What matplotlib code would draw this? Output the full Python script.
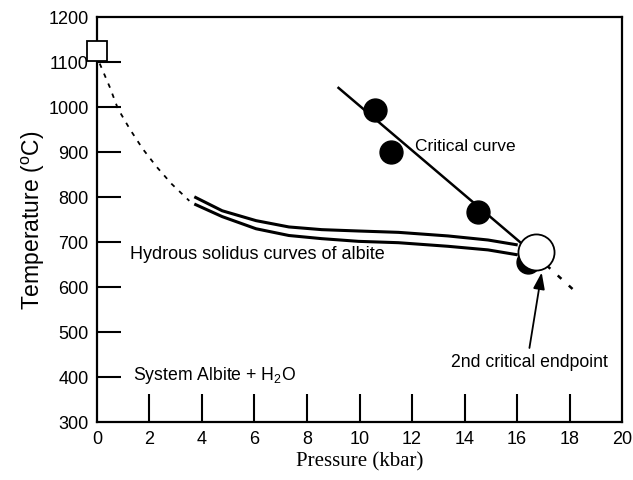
import numpy as np
import matplotlib
matplotlib.use("Agg")
import matplotlib.pyplot as plt

plt.rcParams['font.family'] = ['Liberation Sans', 'DejaVu Sans']
plt.rcParams['mathtext.fontset'] = 'custom'
plt.rcParams['mathtext.rm'] = 'Liberation Sans'

# --- data ---
# dashed extrapolation of the solidus towards the dry melting point
dash_p = [0.11, 0.49, 0.80, 1.25, 1.74, 2.27, 2.84, 3.52]
dash_t = [1096, 1044, 996, 951, 907, 867, 829, 791]

# two hydrous solidus curves
sol_p = [3.71, 4.77, 6.06, 7.31, 8.56, 9.96, 11.48, 13.37, 14.89, 16.02]
sol_upper_t = [800, 769, 747, 733, 727, 724, 721, 713, 704, 693]
sol_lower_t = [784, 756, 729, 714, 707, 701, 698, 690, 682, 671]

# critical curve (solid part + dotted extension)
crit_p = [9.2, 16.7]
crit_t = [1042, 670]
crit_ext_p = [16.7, 18.3]
crit_ext_t = [670, 585]

# experimental points on critical curve
pts_p = [10.6, 11.2, 14.5, 16.4]
pts_t = [993, 900, 766, 656]

# dry melting point (square) and 2nd critical endpoint (open circle)
dry_p, dry_t = 0.0, 1124
cep_p, cep_t = 16.7, 678

xticks = list(range(0, 21, 2))
yticks = list(range(300, 1201, 100))

fig = plt.figure(figsize=(6.33, 4.81), dpi=100)
ax = fig.add_axes([0.153, 0.121, 0.830, 0.842])

ax.plot(dash_p, dash_t, color='black', lw=1.3, ls=(0, (2.5, 3.5)))
ax.plot(sol_p, sol_upper_t, color='black', lw=2.2, solid_capstyle='butt',
        solid_joinstyle='round')
ax.plot(sol_p, sol_lower_t, color='black', lw=2.2, solid_capstyle='butt',
        solid_joinstyle='round')
ax.plot(crit_p, crit_t, color='black', lw=1.8)
ax.plot(crit_ext_p, crit_ext_t, color='black', lw=1.8, ls=(0, (2, 4)))

ax.plot(pts_p, pts_t, 'o', color='black', ms=16.5, zorder=4)
ax.plot([cep_p], [cep_t], 'o', mfc='white', mec='black', mew=1.3, ms=26, zorder=5)
ax.plot([dry_p], [dry_t], 's', mfc='white', mec='black', mew=1.3, ms=15, zorder=5,
        clip_on=False)

ax.annotate('', xy=(16.95, 638), xytext=(16.45, 458),
            arrowprops=dict(arrowstyle='-|>,head_length=1.0,head_width=0.35',
                            color='black', lw=1.3), zorder=6)

ax.text(12.1, 913, 'Critical curve', fontsize=12.5, va='center')
ax.text(1.25, 673, 'Hydrous solidus curves of albite', fontsize=13, va='center')
ax.text(13.5, 433, '2nd critical endpoint', fontsize=12.7, va='center')
ax.text(1.36, 404, r'System Albite + H$_\mathregular{2}$O', fontsize=12.7, va='center')

ax.set_xlim(0, 20)
ax.set_ylim(300, 1200)
ax.set_xticks(xticks)
ax.set_yticks(yticks)
ax.tick_params(direction='in', length=17, width=1.5, labelsize=13, pad=6)
ax.tick_params(axis='x', length=20)
for t in [ax.xaxis.get_major_ticks()[0], ax.xaxis.get_major_ticks()[-1],
          ax.yaxis.get_major_ticks()[0], ax.yaxis.get_major_ticks()[-1]]:
    t.tick1line.set_visible(False)

for s in ax.spines.values():
    s.set_linewidth(1.6)

ax.set_xlabel('Pressure (kbar)', fontsize=15, family='Liberation Serif', labelpad=3)
ax.set_ylabel(r'Temperature ($^\mathregular{o}$C)', fontsize=16.5, labelpad=1)

fig.savefig('out.png', dpi=100)
